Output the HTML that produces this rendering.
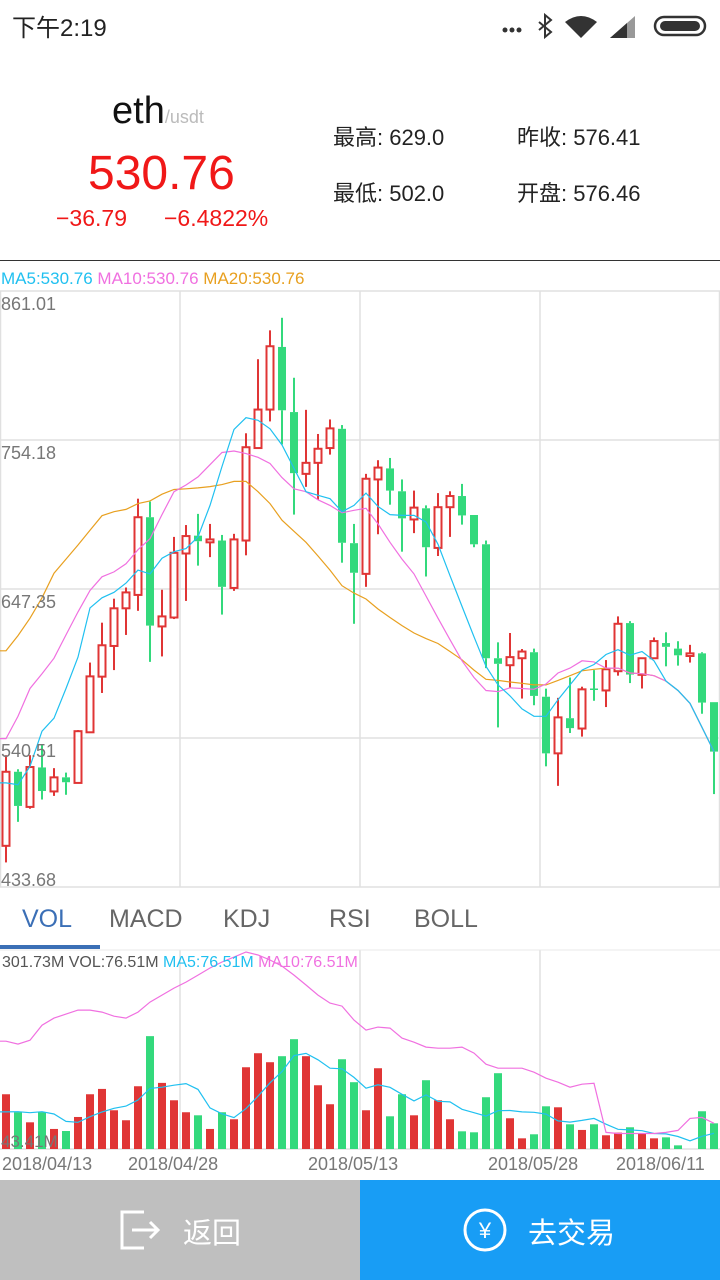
<!DOCTYPE html>
<html><head><meta charset="utf-8">
<style>
body{margin:0;width:720px;height:1280px;background:#fff;font-family:"Liberation Sans","Noto Sans CJK SC",sans-serif;position:relative;overflow:hidden}
.a{position:absolute;white-space:nowrap}
</style></head><body>
<div class="a" style="left:12px;top:8px;font-size:24px;color:#222">下午2:19</div>
<svg class="a" style="left:495px;top:10px" width="220" height="30">
<circle cx="10" cy="20" r="2.5" fill="#333"/><circle cx="17" cy="20" r="2.5" fill="#333"/><circle cx="24" cy="20" r="2.5" fill="#333"/>
<path d="M44 12 L56 22 L50 27 L50 5 L56 10 L44 20" stroke="#333" stroke-width="2" fill="none"/>
<path d="M70 12 Q86 0 102 12 L86 28 Z" fill="#333"/>
<path d="M115 28 L140 6 L140 28 Z" fill="#999"/><path d="M115 28 L132 13 L132 28 Z" fill="#333"/>
<rect x="160" y="7" width="50" height="18" rx="9" fill="none" stroke="#333" stroke-width="2.5"/><rect x="165" y="11" width="40" height="10" rx="5" fill="#333"/>
</svg>
<div class="a" style="left:112px;top:90px;font-size:38px;color:#111">eth<span style="font-size:18px;color:#bbb">/usdt</span></div>
<div class="a" style="left:88px;top:146px;font-size:48px;color:#f01818">530.76</div>
<div class="a" style="left:56px;top:205px;font-size:23px;color:#f01818">−36.79</div>
<div class="a" style="left:164px;top:205px;font-size:23px;color:#f01818">−6.4822%</div>
<div class="a" style="left:333px;top:120px;font-size:22px;color:#222">最高: 629.0</div>
<div class="a" style="left:517px;top:120px;font-size:22px;color:#222">昨收: 576.41</div>
<div class="a" style="left:333px;top:176px;font-size:22px;color:#222">最低: 502.0</div>
<div class="a" style="left:517px;top:176px;font-size:22px;color:#222">开盘: 576.46</div>
<div class="a" style="left:0;top:260px;width:720px;height:1px;background:#333"></div>
<div class="a" style="left:1px;top:269px;font-size:17px"><span style="color:#20c0f0">MA5:530.76</span> <span style="color:#f070e0">MA10:530.76</span> <span style="color:#e8a020">MA20:530.76</span></div>

<svg class="a" id="kchart" style="left:0;top:0" width="720" height="1180"></svg>

<div class="a" style="left:22px;top:905px;font-size:25px;color:#3b6fb6">VOL</div>
<div class="a" style="left:109px;top:905px;font-size:25px;color:#666">MACD</div>
<div class="a" style="left:223px;top:905px;font-size:25px;color:#666">KDJ</div>
<div class="a" style="left:329px;top:905px;font-size:25px;color:#666">RSI</div>
<div class="a" style="left:414px;top:905px;font-size:25px;color:#666">BOLL</div>
<div class="a" style="left:0;top:945px;width:100px;height:4px;background:#3b6fb6"></div>
<div class="a" style="left:2px;top:954px;font-size:16px;color:#555">301.73M VOL:76.51M <span style="color:#20c0f0">MA5:76.51M</span> <span style="color:#f070e0">MA10:76.51M</span></div>

<div class="a" style="left:0;top:1180px;width:360px;height:100px;background:#bfbfbf">
<svg class="a" style="left:118px;top:28px" width="44" height="44"><path d="M26 4 H4 V40 H26" stroke="#fff" stroke-width="3" fill="none"/><path d="M14 22 H40 M32 14 L40 22 L32 30" stroke="#fff" stroke-width="3" fill="none"/></svg>
<div class="a" style="left:183px;top:30px;font-size:29px;color:#fff">返回</div></div>
<div class="a" style="left:360px;top:1180px;width:360px;height:100px;background:#189df5">
<svg class="a" style="left:102px;top:27px" width="46" height="46"><circle cx="23" cy="23" r="20" stroke="#fff" stroke-width="3" fill="none"/><text x="23" y="31" font-size="22" fill="#fff" text-anchor="middle" font-family="Liberation Sans,sans-serif">¥</text></svg>
<div class="a" style="left:168px;top:30px;font-size:29px;color:#fff">去交易</div></div>

<script>
const opens=[463.2,516.3,491.1,519.4,502.2,512.3,508.3,544.6,584.5,606.5,633.5,643.1,698.8,620.5,626.9,672.8,685.6,680.8,682.1,648.1,682.1,748.4,776.0,820.9,774.2,729.9,737.8,748.4,762.2,680.2,658.2,725.9,733.8,717.4,697.2,705.2,676.8,706.0,714.0,700.4,679.4,597.7,592.7,597.7,602.0,570.1,529.5,554.7,547.3,576.0,574.6,588.4,622.9,585.8,597.7,608.6,604.6,599.3,601.2,566.2];
const closes=[516.3,491.8,519.7,502.5,512.3,508.8,545.4,584.7,607.0,633.5,644.9,698.8,621.1,627.7,673.3,685.3,681.6,682.9,648.9,682.9,749.0,776.0,821.4,775.5,730.4,737.8,747.9,762.5,680.5,659.0,726.4,734.4,717.9,698.0,705.7,677.3,706.0,714.0,700.1,679.4,597.7,593.7,598.5,602.5,570.7,529.5,555.3,547.6,575.4,575.0,589.8,622.4,586.0,597.7,610.0,605.9,599.8,601.2,565.9,530.76];
const highs=[528.2,518.1,528.2,536.2,518.9,515.7,546.2,594.6,623.2,640.4,648.4,712.1,710.0,646.8,684.7,693.2,701.2,694.0,686.1,686.9,759.0,812.1,832.8,841.8,798.8,775.8,758.5,768.9,764.9,694.0,729.9,739.7,741.3,725.9,717.9,707.3,716.1,717.4,722.7,700.4,682.1,609.1,615.8,604.3,604.6,575.9,569.3,583.9,577.3,589.2,596.4,627.7,624.3,597.7,612.6,616.3,609.9,607.3,602.0,566.2];
const lows=[451.3,480.4,489.8,496.4,499.0,499.8,508.3,544.6,572.8,589.2,614.4,631.7,595.1,599.0,625.8,638.8,664.1,670.2,629.0,646.0,671.5,748.4,767.5,751.0,700.7,720.6,711.3,743.7,666.2,622.4,648.9,686.6,707.8,674.1,687.4,656.3,671.0,684.7,693.5,677.3,590.6,548.1,576.5,568.8,564.0,520.2,506.2,544.1,541.5,567.2,562.7,585.2,579.9,576.0,597.7,591.9,592.4,594.6,557.9,500.3];
const ma5=[508.3,507.0,520.2,545.4,554.7,576.0,598.5,633.8,641.0,645.0,651.6,660.9,658.2,669.4,674.1,676.3,684.7,707.3,735.2,761.7,770.2,768.3,762.2,750.6,733.8,717.1,714.5,712.1,702.8,707.3,716.1,706.5,700.7,700.1,700.1,695.4,679.4,656.9,634.9,613.1,591.9,578.6,570.7,561.4,556.1,556.1,568.0,578.6,589.2,593.2,600.4,603.8,599.9,602.5,595.9,581.3,574.6,565.4,548.1,530.76];
const ma10=[540.1,556.1,576.0,586.6,597.7,614.4,630.9,646.3,656.1,659.6,665.4,675.5,683.4,700.7,717.1,721.9,727.7,736.5,745.2,746.3,744.4,741.8,737.3,727.2,719.2,717.1,711.3,707.3,702.0,703.8,705.2,694.0,680.8,668.8,658.2,642.3,626.4,611.0,595.9,583.9,574.6,573.8,576.5,576.0,575.4,579.2,587.1,590.6,595.9,595.1,590.6,590.6,587.1,586.6,585.2,581.3,574.6,565.4,548.1,530.76];
const ma20=[603.0,613.9,626.4,641.0,658.7,668.8,678.9,689.5,699.9,702.8,704.4,708.6,710.5,715.3,718.7,719.2,719.8,720.8,722.2,724.5,724.5,717.1,708.6,696.7,688.7,680.8,671.0,660.9,649.7,644.4,640.2,633.0,626.9,621.1,615.8,611.8,608.3,602.5,596.6,589.2,582.6,581.8,580.7,579.7,578.6,578.6,581.8,585.2,588.7,589.8,590.6,590.6,587.1,586.6,585.2,581.3,574.6,565.4,548.1,530.76];
const volumes=[115.2,91.6,78.4,91.6,69.7,67.0,85.4,115.2,122.2,94.2,81.1,125.7,191.4,130.1,107.3,91.6,87.6,69.7,91.6,82.4,150.6,169.0,157.2,165.1,187.4,165.1,127.0,102.1,161.1,131.0,94.2,149.3,86.3,115.2,87.6,133.6,107.3,82.4,66.6,65.3,111.3,142.8,83.7,57.4,62.7,99.4,98.1,75.8,68.4,75.8,61.4,64.9,71.9,63.1,57.4,58.7,48.2,43.4,92.9,77.1];
const prevVolumes=[90,85,85,85];
const volMa10=[184.8,180.9,186.1,205.8,215.0,220.3,225.5,225.5,222.9,217.6,215.0,222.9,236.0,245.2,254.4,262.3,271.5,280.7,288.6,295.1,301.7,297.8,291.2,283.3,271.5,258.4,245.2,234.7,230.8,212.4,199.3,203.2,201.9,188.8,183.5,177.0,175.6,175.6,177.0,169.1,154.6,149.4,149.4,149.4,144.1,136.3,131.0,124.4,128.4,129.5,65.2,63.8,63.8,63.8,63.8,65.2,67.8,83.6,84.9,77.1];
const priceTicks=["861.01","754.18","647.35","540.51","433.68"];
const dateLabels=["2018/04/13","2018/04/28","2018/05/13","2018/05/28","2018/06/11"];

const NS="http://www.w3.org/2000/svg";
const svg=document.getElementById('kchart');
const pMax=861.01,pMin=433.68,pTop=291,pBot=887;
const vMax=301.73,vMin=43.41,vTop=952,vBot=1149;
const RED="#e03535",GREEN="#33d97c";
function xAt(i){return 6+12*i;}
function yP(p){return pTop+(pMax-p)/(pMax-pMin)*(pBot-pTop);}
function yV(v){return vBot-(v-vMin)/(vMax-vMin)*(vBot-vTop);}
function mk(tag,attrs){const e=document.createElementNS(NS,tag);for(const k in attrs)e.setAttribute(k,attrs[k]);svg.appendChild(e);return e;}

let e=mk('rect',{x:0.5,y:pTop,width:719,height:pBot-pTop,fill:'none',stroke:'#e0e0e0','stroke-width':1.5});


for(let k=1;k<4;k++){
  e=mk('line',{x1:0,x2:720,y1:pTop+k*(pBot-pTop)/4,y2:pTop+k*(pBot-pTop)/4,stroke:'#e0e0e0','stroke-width':1.5});
  
  
  e=mk('line',{x1:180*k,x2:180*k,y1:pTop,y2:pBot,stroke:'#e0e0e0','stroke-width':1.5});
  
  
  e=mk('line',{x1:180*k,x2:180*k,y1:vTop-2,y2:vBot,stroke:'#e0e0e0','stroke-width':1.5});
  
  
}
e=mk('line',{x1:0,x2:720,y1:vTop-2,y2:vTop-2,stroke:'#e8e8e8','stroke-width':1});


e=mk('line',{x1:0,x2:720,y1:vBot,y2:vBot,stroke:'#e0e0e0','stroke-width':1.5});



for(let i=0;i<opens.length;i++){
  const up=closes[i]>=opens[i];const c=up?RED:GREEN;const x=xAt(i);
  const top=yP(Math.max(opens[i],closes[i])),bot=yP(Math.min(opens[i],closes[i]));
  e=mk('line',{x1:x,x2:x,y1:yP(highs[i]),y2:top,stroke:c,'stroke-width':2});
  
  
  e=mk('line',{x1:x,x2:x,y1:bot,y2:yP(lows[i]),stroke:c,'stroke-width':2});
  
  
  const h=Math.max(bot-top,1.5);
  if(up) e=mk('rect',{x:x-3.5,y:top,width:7,height:h,fill:'#fff',stroke:c,'stroke-width':2});
  else e=mk('rect',{x:x-4,y:top,width:8,height:h,fill:c});
  
  
}
function linePath(arr,yf){let d='M0 '+yf(arr[0]).toFixed(1);for(let i=0;i<arr.length;i++){d+='L'+xAt(i)+' '+yf(arr[i]).toFixed(1);}return d;}
e=mk('path',{d:linePath(ma20,yP),fill:'none',stroke:'#e8a020','stroke-width':1.2});


e=mk('path',{d:linePath(ma10,yP),fill:'none',stroke:'#f070e0','stroke-width':1.2});


e=mk('path',{d:linePath(ma5,yP),fill:'none',stroke:'#20c0f0','stroke-width':1.2});


priceTicks.forEach((t,k)=>{
  e=mk('text',{x:1,y:pTop+k*(pBot-pTop)/4+(k==4?-1:19),'font-size':18,fill:'#777','font-family':'Liberation Sans,sans-serif'});
  e.textContent=t;
  
  
});
for(let i=0;i<volumes.length;i++){
  const up=closes[i]>=opens[i];const y=yV(volumes[i]);
  e=mk('rect',{x:xAt(i)-4,y:y,width:8,height:Math.max(vBot-y,0),fill:up?RED:GREEN});
  
  
}
const allV=prevVolumes.concat(volumes);
function ma(arr,off,n,i){let s=0;for(let k=0;k<n;k++)s+=arr[off+i-k];return s/n;}
const volMa5=volumes.map((v,i)=>ma(allV,prevVolumes.length,5,i));
e=mk('path',{d:linePath(volMa5,yV),fill:'none',stroke:'#20c0f0','stroke-width':1.2});


e=mk('path',{d:linePath(volMa10,yV),fill:'none',stroke:'#f070e0','stroke-width':1.2});


e=mk('text',{x:1,y:1147,'font-size':17,fill:'#777','font-family':'Liberation Sans,sans-serif'});
e.textContent='43.41M';


const dx=[2,128,308,488,616];
dateLabels.forEach((t,k)=>{
  e=mk('text',{x:dx[k],y:1170,'font-size':18,fill:'#777','font-family':'Liberation Sans,sans-serif'});
  e.textContent=t;
  
  
});
</script>
</body></html>
